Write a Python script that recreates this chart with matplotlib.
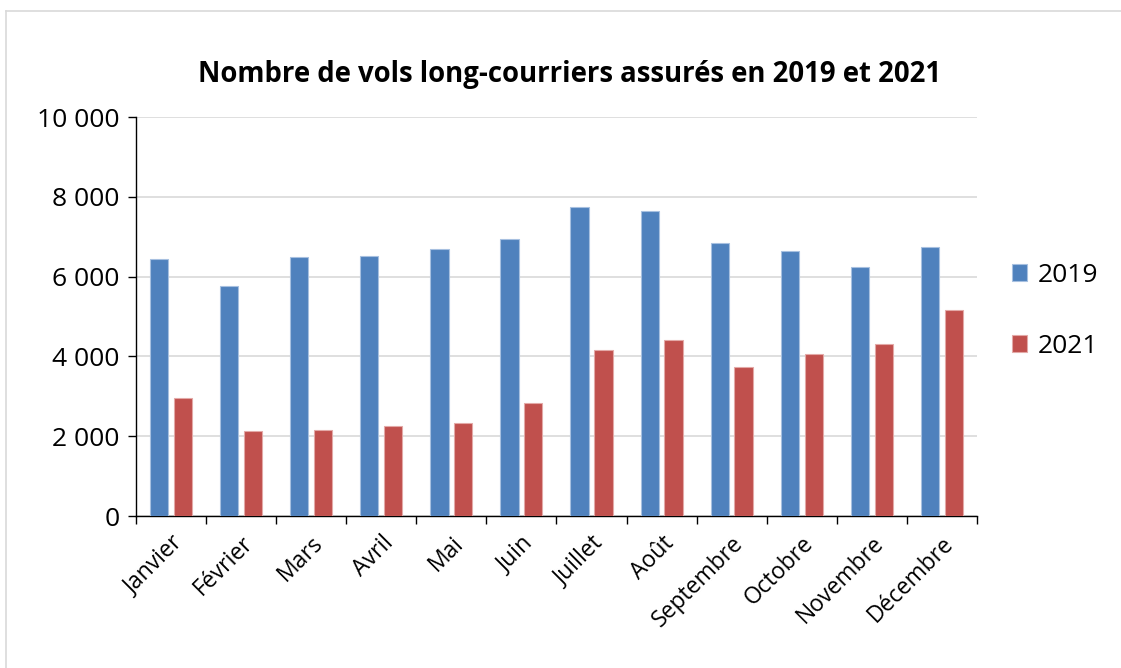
import numpy as np
import matplotlib
matplotlib.use('Agg')
import matplotlib.pyplot as plt
from matplotlib.lines import Line2D

plt.rcParams['font.family'] = ['Open Sans', 'DejaVu Sans']

### data
mois = ['Janvier', 'Février', 'Mars', 'Avril', 'Mai', 'Juin', 'Juillet',
        'Août', 'Septembre', 'Octobre', 'Novembre', 'Décembre']
vols_2019 = [6440, 5770, 6480, 6505, 6690, 6940, 7740, 7650, 6850, 6630, 6230, 6750]
vols_2021 = [2950, 2130, 2165, 2255, 2340, 2840, 4160, 4410, 3725, 4065, 4315, 5165]
yticks = [0, 2000, 4000, 6000, 8000, 10000]
ytick_labels = ['0', '2 000', '4 000', '6 000', '8 000', '10 000']

fig = plt.figure(figsize=(11.21, 6.68), dpi=100)
ax = fig.add_axes([0.1213, 0.2275, 0.7502, 0.5973])

x = np.arange(len(mois))
w = 0.26
ax.bar(x - 0.17, vols_2019, width=w, color='#4F81BD', edgecolor='#A7C0E0',
       linewidth=0.8, label='2019', zorder=3)
ax.bar(x + 0.17, vols_2021, width=w, color='#C0504D', edgecolor='#E3A9A7',
       linewidth=0.8, label='2021', zorder=3)

ax.set_xlim(-0.5, len(mois) - 0.5)
ax.set_ylim(0, 10000)
ax.set_yticks(yticks)
ax.set_yticklabels(ytick_labels, fontsize=19)
ax.yaxis.grid(True, color='#D9D9D9', linewidth=1.2, zorder=0)
ax.set_axisbelow(True)

# labels at centres, ticks at category boundaries
ax.set_xticks(x)
ax.set_xticklabels(mois, rotation=45, ha='right', rotation_mode='anchor', fontsize=16.5)
ax.set_xticks(np.arange(-0.5, len(mois)), minor=True)
ax.tick_params(axis='x', which='major', length=0, pad=11)
ax.tick_params(axis='x', which='minor', length=6, width=1, direction='out', color='black')
ax.tick_params(axis='y', length=6, width=1, direction='out', color='black', pad=6)

for s in ['top', 'right']:
    ax.spines[s].set_visible(False)
for s in ['left', 'bottom']:
    ax.spines[s].set_color('black')
    ax.spines[s].set_linewidth(1)

fig.text(0.508, 0.889, 'Nombre de vols long-courriers assurés en 2019 et 2021',
         ha='center', va='center', fontsize=19.8, fontweight='bold')

leg = ax.legend(loc='center left', bbox_to_anchor=(0.893, 0.535),
                bbox_transform=fig.transFigure, frameon=False, fontsize=19,
                handlelength=0.6, handleheight=0.6, handletextpad=0.4,
                labelspacing=1.75, borderaxespad=0)

# light chart frame
fig.add_artist(Line2D([6 / 1121, 1], [1 - 11 / 668, 1 - 11 / 668], color='#D9D9D9', lw=1.2))
fig.add_artist(Line2D([6 / 1121, 6 / 1121], [0, 1 - 11 / 668], color='#D9D9D9', lw=1.2))

fig.savefig('out.png', dpi=100)
